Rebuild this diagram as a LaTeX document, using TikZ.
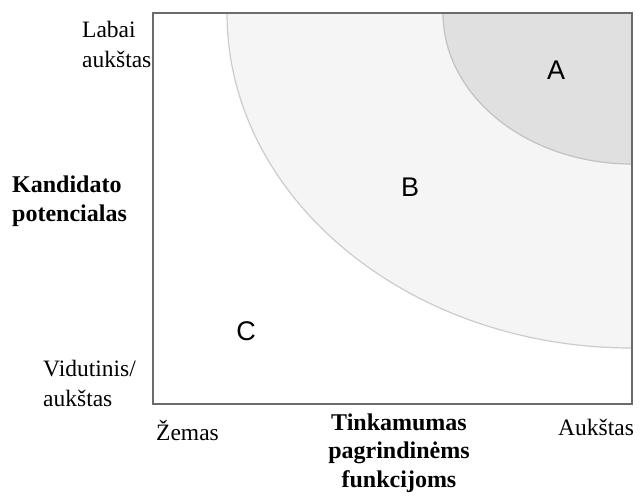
\documentclass[tikz,border=0pt]{standalone}
\usepackage{fontspec}
\setmainfont{Liberation Serif}
\newfontfamily\lettersans{Liberation Sans}
\begin{document}
\begin{tikzpicture}[x=1pt,y=-1pt,
  axislabel/.style={inner sep=0pt,align=left,font=\fontsize{23.5}{29.5}\selectfont},
  axistitle/.style={inner sep=0pt,font=\bfseries\fontsize{24}{28.5}\selectfont},
  zoneletter/.style={inner sep=0pt,font=\lettersans\fontsize{27}{30}\selectfont},
  frame/.style={draw=black!58,line width=1.8pt},
]
\useasboundingbox (0,0) rectangle (640,498);
\fill[white] (0,0) rectangle (640,498);

% plot area
\coordinate (tl) at (153,13);
\coordinate (br) at (632,404);
\coordinate (corner) at (632,13);

\begin{scope}
  \clip (tl) rectangle (br);
  % zone B: wide quarter ellipse around the top-right corner
  \filldraw[fill=black!4,draw=black!20,line width=1.2pt] (corner) ellipse [x radius=405,y radius=335];
  % zone A: inner quarter ellipse
  \filldraw[fill=black!12,draw=black!24,line width=1.2pt] (corner) ellipse [x radius=189,y radius=151];
\end{scope}
\draw[frame] (tl) rectangle (br);

% zone letters
\node[zoneletter] (A) at (556,70) {A};
\node[zoneletter] (B) at (410,187) {B};
\node[zoneletter] (C) at (246,331) {C};

% vertical axis (base anchor of a multi-line node sits on its last line)
\node[axislabel,anchor=base west] (ytop) at (82,67) {Labai\\aukštas};
\node[axislabel,anchor=base west] (ybot) at (43,406) {Vidutinis/\\aukštas};
\node[axistitle,anchor=base west,align=left] (ytitle) at (12,221) {Kandidato\\potencialas};

% horizontal axis
\node[axislabel,anchor=base west] (xlow) at (156,440) {Žemas};
\node[axislabel,anchor=base west] (xhigh) at (558,435) {Aukštas};
\node[axistitle,anchor=base,align=center] (xtitle) at (399,487) {Tinkamumas\\pagrindinėms\\funkcijoms};
\end{tikzpicture}
\end{document}
